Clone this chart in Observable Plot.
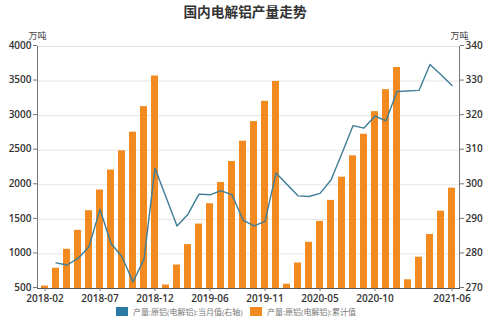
<!DOCTYPE html>
<html>
<head>
<meta charset="utf-8">
<script src="https://cdn.jsdelivr.net/npm/d3@7"></script>
<script src="https://cdn.jsdelivr.net/npm/@observablehq/plot@0.6"></script>
<style>
  html, body { margin: 0; padding: 0; background: #fff; }
  #wrap { position: relative; width: 500px; height: 317px; overflow: hidden; font-family: "Noto Sans CJK SC", sans-serif; }
  #title { position: absolute; left: 0; top: 2px; width: 490px; text-align: center; font-size: 13.7px; font-weight: bold; color: #333; line-height: 18px; }
  #chart { position: absolute; left: 0; top: 0; }
  .leg { position: absolute; top: 306px; display: flex; align-items: center; font-size: 8px; color: #777; white-space: nowrap; font-family: "Open Sans", "Noto Sans CJK SC", sans-serif; }
  .sw { width: 12px; height: 9px; margin-right: 5px; }
</style>
</head>
<body>
<div id="wrap">
  <div id="chart"></div>
  <div id="title"></div>
  <div class="leg" style="left:116px"><div class="sw" id="sw1"></div><span id="lg1"></span></div>
  <div class="leg" style="left:250px"><div class="sw" id="sw2"></div><span id="lg2"></span></div>
</div>
<script>
const titleText = "国内电解铝产量走势";
const unitText = "万吨";
const seriesLine = "产量:原铝(电解铝):当月值(右轴)";
const seriesBar = "产量:原铝(电解铝):累计值";

const months = [
  "2018-02","2018-03","2018-04","2018-05","2018-06","2018-07","2018-08","2018-09","2018-10","2018-11","2018-12",
  "2019-02","2019-03","2019-04","2019-05","2019-06","2019-07","2019-08","2019-09","2019-10","2019-11","2019-12",
  "2020-02","2020-03","2020-04","2020-05","2020-06","2020-07","2020-08","2020-09","2020-10","2020-11","2020-12",
  "2021-02","2021-03","2021-04","2021-05","2021-06"
];
const cumulative = [
  535, 793, 1067, 1341, 1625, 1924, 2213, 2491, 2761, 3130, 3573,
  550, 840, 1135, 1432, 1726, 2034, 2337, 2630, 2914, 3207, 3495,
  562, 869, 1168, 1471, 1774, 2110, 2419, 2731, 3058, 3376, 3697,
  626, 953, 1281, 1618, 1951
];
const monthly = [
  null, 277.4, 276.8, 278.7, 282.1, 292.9, 283.0, 279.2, 271.9, 278.5, 304.8,
  null, 288.1, 291.5, 297.3, 297.1, 298.3, 297.1, 289.8, 288.1, 289.4, 303.4,
  null, 296.8, 296.6, 297.5, 301.4, 309.1, 317.1, 316.4, 319.9, 318.5, 327.0,
  null, 327.3, 334.8, 331.8, 328.7
];
const xTickLabels = ["2018-02","2018-07","2018-12","2019-06","2019-11","2020-05","2020-10","2021-06"];
const leftTicks = [500, 1000, 1500, 2000, 2500, 3000, 3500, 4000];
const rightTicks = [270, 280, 290, 300, 310, 320, 330, 340];

const barColor = "#f28a1f";
const lineColor = "#3d7d98";
const legendBlue = "#2b7aa3";

// right axis domain [270,340] mapped onto left domain [500,4000]
const toLeft = v => 500 + (v - 270) * 50;
const fromLeft = y => (y - 500) / 50 + 270;

const rows = months.map((m, i) => ({m, cum: cumulative[i], mon: monthly[i]}));
const lineRows = rows.filter(d => d.mon != null);

const axisLines = (index, scales, values, dim) => {
  const g = d3.create("svg:g");
  const x0 = dim.marginLeft, x1 = dim.width - dim.marginRight;
  const y0 = dim.marginTop, y1 = dim.height - dim.marginBottom;
  g.append("line").attr("x1", x0 + 0.5).attr("x2", x0 + 0.5).attr("y1", y0).attr("y2", y1).attr("stroke", "#777");
  g.append("line").attr("x1", x1 + 0.5).attr("x2", x1 + 0.5).attr("y1", y0).attr("y2", y1).attr("stroke", "#777");
  g.append("line").attr("x1", x0).attr("x2", x1 + 1).attr("y1", y1 + 0.5).attr("y2", y1 + 0.5).attr("stroke", "#555");
  return g.node();
};

const chart = Plot.plot({
  width: 500,
  height: 317,
  marginTop: 46,
  marginBottom: 29,
  marginLeft: 37,
  marginRight: 41,
  style: {fontFamily: "'Open Sans', sans-serif", fontSize: "10px", fontWeight: 600, color: "#333", background: "#fff"},
  x: {type: "band", domain: months, paddingInner: 0.34, paddingOuter: 0.17, axis: null},
  y: {domain: [500, 4000], axis: null},
  marks: [
    Plot.gridY(leftTicks, {stroke: "#e4e4e4", strokeOpacity: 1}),
    Plot.barY(rows, {x: "m", y1: 500, y2: "cum", fill: barColor}),
    Plot.line(lineRows, {x: "m", y: d => toLeft(d.mon), stroke: lineColor, strokeWidth: 1.4}),
    axisLines,
    Plot.axisX({ticks: xTickLabels, label: null, tickSize: 3, tickPadding: 3, stroke: "#777", fill: "#333"}),
    Plot.axisY({anchor: "left", label: null, ticks: leftTicks, tickSize: 4, tickPadding: 2, dy: -1, stroke: "#777", fill: "#333", tickFormat: d => String(d)}),
    Plot.axisY({anchor: "right", label: null, ticks: rightTicks.map(toLeft), tickSize: 4, tickPadding: 2, dy: -1, stroke: "#777", fill: "#333", tickFormat: d => String(Math.round(fromLeft(d)))}),
    Plot.text([unitText], {frameAnchor: "top-left", dy: -14, textAnchor: "middle", fontSize: 9, fontWeight: 400, fill: "#444", fontFamily: "Noto Sans CJK SC"}),
    Plot.text([unitText], {frameAnchor: "top-right", dy: -14, textAnchor: "middle", fontSize: 9, fontWeight: 400, fill: "#444", fontFamily: "Noto Sans CJK SC"})
  ]
});
document.getElementById("chart").appendChild(chart);
document.getElementById("title").textContent = titleText;
document.getElementById("lg1").textContent = seriesLine;
document.getElementById("lg2").textContent = seriesBar;
document.getElementById("sw1").style.background = legendBlue;
document.getElementById("sw2").style.background = barColor;
</script>
</body>
</html>
